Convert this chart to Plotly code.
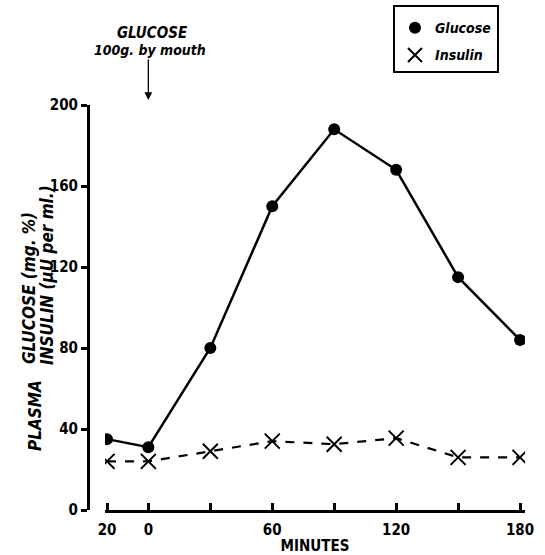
import plotly.graph_objects as go

minutes = [-20, 0, 30, 60, 90, 120, 150, 180]
glucose = [35, 31, 80, 150, 188, 168, 115, 84]
insulin = [24, 24, 29, 34, 32.5, 35.5, 26, 26]
x_tickvals = [-20, 0, 30, 60, 90, 120, 150, 180]
x_ticktext = ["20", "0", "", "60", "", "120", "", "180"]
y_tickvals = [0, 40, 80, 120, 160, 200]

FONT = "DejaVu Sans Condensed, Liberation Sans Narrow, Arial Narrow, sans-serif"

fig = go.Figure()
fig.add_trace(go.Scatter(
    x=minutes, y=glucose, mode="lines+markers", showlegend=False,
    line=dict(color="black", width=2.5),
    marker=dict(symbol="circle", size=12, color="black"),
))
fig.add_trace(go.Scatter(
    x=minutes, y=insulin, mode="lines+markers", showlegend=False,
    line=dict(color="black", width=2.2, dash="dash"),
    marker=dict(symbol="x-thin", size=15, line=dict(color="black", width=2)),
))
# legend entries
fig.add_trace(go.Scatter(x=[None], y=[None], mode="markers", name="Glucose",
                         legendgroup="g",
                         marker=dict(symbol="circle", size=12, color="black")))
fig.add_trace(go.Scatter(x=[None], y=[None], mode="markers", name="Insulin",
                         legendgroup="i",
                         marker=dict(symbol="x-thin", size=14, line=dict(color="black", width=2))))

L, R, T, B = 88, 20, 105, 45
W, H = 545, 555
pw = W - L - R
ph = H - T - B

fig.update_layout(
    width=W, height=H,
    margin=dict(l=L, r=R, t=T, b=B, autoexpand=False),
    paper_bgcolor="white", plot_bgcolor="white",
    font=dict(family=FONT, color="black", size=14),
    xaxis=dict(
        domain=[(105 - L) / pw, 1], range=[-21, 182.4], automargin=False,
        showgrid=False, zeroline=False, showline=True, linewidth=3, linecolor="black",
        ticks="inside", ticklen=7, tickwidth=2.5, tickcolor="black",
        tickvals=x_tickvals, ticktext=x_ticktext, ticklabelstandoff=4,
        tickfont=dict(family=FONT, size=15, weight="bold"),
        title=dict(text="MINUTES", font=dict(family=FONT, size=15, weight="bold"), standoff=4),
    ),
    yaxis=dict(
        anchor="free", position=0, range=[0, 200], automargin=False,
        showgrid=False, zeroline=False, showline=True, linewidth=3, linecolor="black",
        ticks="outside", ticklen=6, tickwidth=2.5, tickcolor="black",
        tickvals=y_tickvals,
        tickfont=dict(family=FONT, size=15, weight="bold"),
    ),
    legend=dict(
        x=(393 - L) / pw, y=(H - B - 5) / ph, xanchor="left", yanchor="top",
        bordercolor="black", borderwidth=2, bgcolor="white",
        font=dict(family=FONT, size=14, style="italic", weight="bold"),
        itemwidth=30, tracegroupgap=6, entrywidth=92,
        title=dict(text=" ", font=dict(size=4)),
    ),
)

def px_x(p):
    return (p - L) / pw

def px_y(p):
    return (H - B - p) / ph

annos = [
    dict(text="PLASMA", x=px_x(35), y=px_y(416), textangle=-90,
         font=dict(size=17, style="italic", weight="bold")),
    dict(text="GLUCOSE (mg. %)", x=px_x(29), y=px_y(288), textangle=-90,
         font=dict(size=17, style="italic", weight="bold")),
    dict(text="INSULIN (μU per ml.)", x=px_x(47), y=px_y(275), textangle=-90,
         font=dict(size=17, style="italic", weight="bold")),
    dict(text="GLUCOSE", x=px_x(152), y=px_y(33),
         font=dict(size=15, style="italic", weight="bold")),
    dict(text="100g. by mouth", x=px_x(150), y=px_y(50),
         font=dict(size=14, style="italic", weight="bold")),
]
for a in annos:
    fig.add_annotation(xref="paper", yref="paper", showarrow=False,
                       xanchor="center", yanchor="middle", **a)

fig.add_annotation(xref="x", yref="paper", x=0, y=px_y(100), ax=0, ay=-42,
                   showarrow=True, arrowhead=2, arrowsize=1.2, arrowwidth=1.3,
                   arrowcolor="black", text="")

fig.write_html("out.html")
